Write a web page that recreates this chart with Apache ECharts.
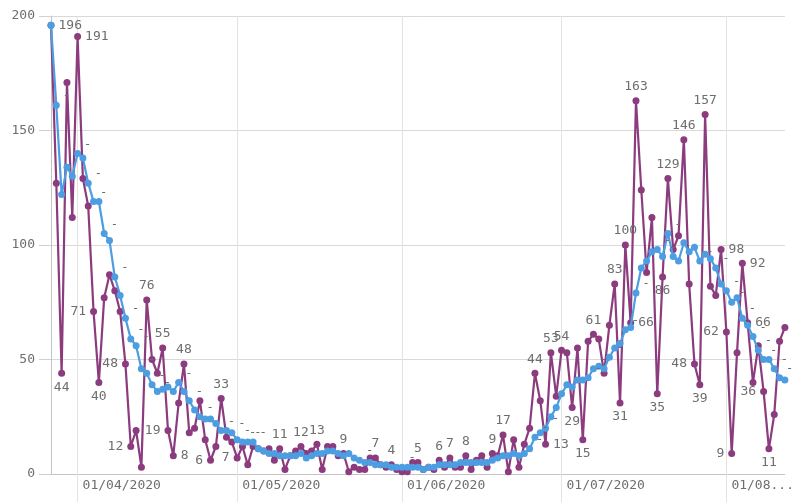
<!DOCTYPE html>
<html>
<head>
<meta charset="utf-8">
<script src="https://cdn.jsdelivr.net/npm/echarts@6/dist/echarts.min.js"></script>
<style>
html,body{margin:0;padding:0;background:#fff;}
#chart{width:797px;height:502px;}
</style>
</head>
<body>
<div id="chart"></div>
<script>
// ---- data ----
const startDate = '2020-03-27';
const dayCount = 139;
const tickLabels = ['01/04/2020', '01/05/2020', '01/06/2020', '01/07/2020', '01/08...'];

const dailyValues = [
  196,127,44,171,112,191,129,117,71,40,
  77,87,80,71,48,12,19,3,76,50,
  44,55,19,8,31,48,18,20,32,15,
  6,12,33,16,14,7,12,4,12,11,
  10,11,6,11,2,8,10,12,9,10,
  13,2,12,12,8,9,1,3,2,2,
  7,7,4,3,4,2,1,1,5,5,
  2,3,2,6,3,7,3,3,8,2,
  6,8,3,9,8,17,1,15,3,13,
  20,44,32,13,53,34,54,53,29,55,
  15,58,61,59,44,65,83,31,100,66,
  163,124,88,112,35,86,129,98,104,146,
  83,48,39,157,82,78,98,62,9,53,
  92,66,40,56,36,11,26,58,64
];

const averageValues = [
  196,161,122,134,130,140,138,127,119,119,
  105,102,86,78,68,59,56,46,44,39,
  36,37,38,36,40,36,32,28,25,24,
  24,22,19,19,18,15,14,14,14,11,
  10,9,9,8,8,8,8,9,7,8,
  9,9,10,10,9,8,9,7,6,5,
  5,4,4,4,3,3,3,3,3,3,
  2,3,3,4,4,4,4,5,5,5,
  5,5,5,6,7,8,8,9,8,9,
  11,16,18,20,25,29,35,39,38,41,
  41,42,46,47,46,51,55,57,63,64,
  79,90,93,97,98,95,105,95,93,101,
  97,99,93,96,94,90,83,80,75,77,
  68,65,60,54,50,50,46,42,41
];

// ---- label layout (index into the series -> placement) ----
const dailyLabelPlacement = {
  0:'tr', 2:'bottom', 5:'right', 8:'left', 9:'bottom', 14:'tl', 15:'bl',
  18:'top', 21:'top', 22:'bl', 23:'right', 25:'top', 30:'left', 32:'top', 35:'left',
  43:'top', 47:'top', 50:'top', 55:'top', 61:'top', 64:'top', 69:'top', 73:'top',
  75:'top', 78:'top', 83:'top', 85:'top', 91:'top', 93:'right', 94:'top', 96:'top',
  98:'bottom', 100:'bottom', 102:'top', 106:'top', 107:'bottom', 108:'top', 109:'right',
  110:'top', 114:'bottom', 115:'br', 116:'top', 119:'top', 121:'bl', 122:'bottom',
  123:'top', 126:'tr', 127:'bl', 128:'left', 130:'tr', 131:'tr', 134:'bl', 135:'bottom'
};
const averageDashIdx = [1,5,7,8,10,12,14,15,16,17,19,20,24,26,28,32,34,35,36,37,38,58,66,
  90,91,93,101,102,105,108,110,114,115,116,122,125,127,128,130,132,133,134,136,137];

const purple = '#8b3b7e';
const blue = '#4c9de1';
const textColor = '#6e6e6e';
const fontFamily = 'DejaVu Sans Mono';

// categories
const categories = [];
{
  const d0 = new Date(startDate + 'T00:00:00Z');
  for (let i = 0; i < dayCount; i++) {
    const d = new Date(d0.getTime() + i * 86400000);
    const dd = String(d.getUTCDate()).padStart(2, '0');
    const mm = String(d.getUTCMonth() + 1).padStart(2, '0');
    categories.push(dd + '/' + mm + '/' + d.getUTCFullYear());
  }
}
const isMonthStart = (idx) => categories[idx] && categories[idx].startsWith('01/');
const tickText = {};
categories.filter(c => c.startsWith('01/')).forEach((c, k) => { tickText[c] = tickLabels[k]; });

function placement(p) {
  const base = {show: true, color: textColor, fontFamily: fontFamily, fontSize: 13, distance: 4};
  switch (p) {
    case 'tr': return Object.assign(base, {position: 'right', offset: [-3, -13]});
    case 'bl': return Object.assign(base, {position: 'left', offset: [1, 12]});
    case 'tl': return Object.assign(base, {position: 'left', offset: [1, -14]});
    case 'br': return Object.assign(base, {position: 'bottom', offset: [8, 0]});
    default: return Object.assign(base, {position: p});
  }
}

const dailyData = dailyValues.map((v, i) => {
  const p = dailyLabelPlacement[i];
  return p ? {value: v, label: placement(p)} : {value: v};
});
const dashSet = new Set(averageDashIdx);
const averageData = averageValues.map((v, i) => dashSet.has(i)
  ? {value: v, label: {show: true, formatter: '-', position: 'right', offset: [0, -9],
      color: textColor, fontFamily: fontFamily, fontSize: 12, distance: 3}}
  : {value: v});

const chart = echarts.init(document.getElementById('chart'), null, {renderer: 'canvas'});
chart.setOption({
  animation: false,
  backgroundColor: '#ffffff',
  textStyle: {fontFamily: fontFamily},
  grid: {left: 51, right: 0, top: 16, bottom: 28, containLabel: false},
  xAxis: {
    type: 'category',
    data: categories,
    boundaryGap: false,
    axisLine: {show: true, lineStyle: {color: '#c4c4c4', width: 1}},
    axisTick: {show: true, interval: (i) => isMonthStart(i), length: 28,
      lineStyle: {color: '#e3e3e3'}},
    axisLabel: {interval: (i) => isMonthStart(i), formatter: (v) => tickText[v] || v,
      align: 'left', padding: [0, 0, 0, 5], margin: 5,
      color: textColor, fontFamily: fontFamily, fontSize: 13},
    splitLine: {show: true, interval: (i) => isMonthStart(i),
      lineStyle: {color: '#e3e3e3', width: 1}}
  },
  yAxis: {
    type: 'value',
    min: 0, max: 200, interval: 50,
    axisLine: {show: true, lineStyle: {color: '#c4c4c4'}},
    axisTick: {show: true, length: 12, lineStyle: {color: '#d0d0d0'}},
    axisLabel: {margin: 16, color: textColor, fontFamily: fontFamily, fontSize: 13},
    splitLine: {show: true, lineStyle: {color: '#d9d9d9', width: 1}}
  },
  series: [
    {
      name: 'daily', type: 'line', data: dailyData,
      symbol: 'circle', symbolSize: 7, showAllSymbol: true,
      lineStyle: {color: purple, width: 2.2},
      itemStyle: {color: purple},
      labelLayout: {hideOverlap: false},
      z: 2
    },
    {
      name: 'average', type: 'line', data: averageData,
      symbol: 'circle', symbolSize: 7, showAllSymbol: true,
      lineStyle: {color: blue, width: 2.2},
      itemStyle: {color: blue},
      z: 3
    }
  ]
});
</script>
</body>
</html>
